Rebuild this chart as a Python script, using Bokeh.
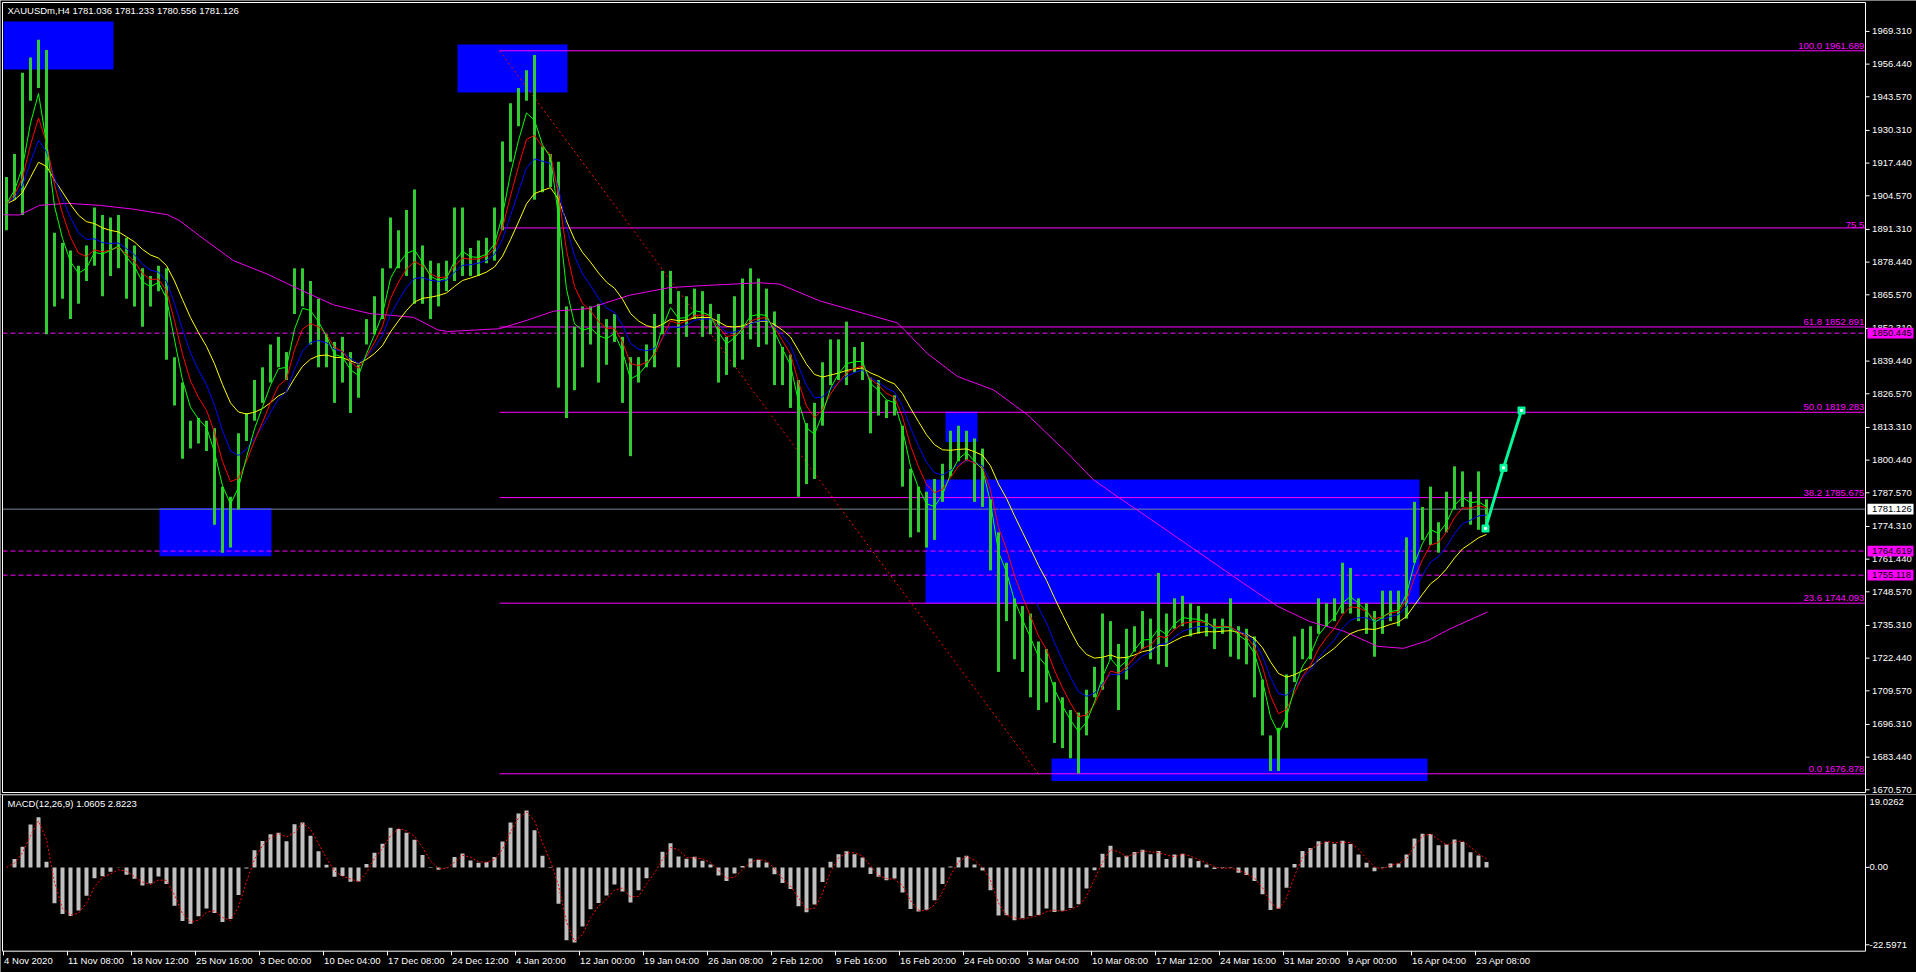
import pandas as pd
from bokeh.plotting import figure
from bokeh.layouts import column
from bokeh.models import Range1d
from bokeh.embed import file_html
from bokeh.resources import INLINE
from bokeh.core.properties import value

FONT = "Liberation Sans"
FS = "9.5px"

# ---------------------------------------------------------------------------
# XAUUSDm H4, 4 Nov 2020 .. 26 Apr 2021, H4 bars summarised four at a time
# (high / low of each group of four bars)
# ---------------------------------------------------------------------------
BARS_PER_GROUP = 4
group_high = [
    1912, 1921, 1953, 1959, 1966, 1962, 1890, 1886, 1883, 1877,
    1885, 1900, 1897, 1896, 1897, 1888, 1885, 1876, 1873, 1877,
    1876, 1841, 1831, 1816, 1817, 1816, 1813, 1790, 1786, 1811,
    1819, 1832, 1837, 1846, 1849, 1843, 1876, 1876, 1871, 1864,
    1850, 1847, 1849, 1843, 1838, 1856, 1865, 1876, 1896, 1891,
    1899, 1907, 1885, 1879, 1878, 1879, 1900, 1900, 1884, 1887,
    1888, 1900, 1926, 1941, 1947, 1954, 1960, 1924, 1921, 1918,
    1861, 1853, 1861, 1861, 1862, 1856, 1858, 1849, 1841, 1841,
    1846, 1858, 1875, 1875, 1867, 1865, 1868, 1867, 1862, 1858,
    1849, 1865, 1872, 1876, 1872, 1868, 1859, 1845, 1842, 1832,
    1815, 1823, 1839, 1848, 1848, 1855, 1845, 1847, 1833, 1832,
    1824, 1826, 1814, 1797, 1790, 1788, 1793, 1799, 1812, 1814,
    1812, 1809, 1805, 1785, 1772, 1760, 1746, 1743, 1740, 1729,
    1726, 1713, 1707, 1702, 1701, 1710, 1719, 1740, 1737, 1728,
    1734, 1735, 1741, 1738, 1756, 1740, 1746, 1747, 1744, 1743,
    1740, 1738, 1738, 1746, 1735, 1734, 1731, 1714, 1692, 1695,
    1716, 1731, 1734, 1735, 1746, 1744, 1746, 1760, 1758, 1746,
    1744, 1741, 1749, 1749, 1749, 1770, 1784, 1782, 1790, 1776,
    1788, 1798, 1796, 1788, 1796, 1785,
]
group_low = [
    1891, 1903, 1897, 1942, 1947, 1850, 1861, 1864, 1856, 1862,
    1871, 1877, 1865, 1873, 1876, 1864, 1861, 1853, 1861, 1867,
    1840, 1822, 1801, 1805, 1807, 1804, 1775, 1764, 1766, 1781,
    1808, 1816, 1823, 1831, 1837, 1832, 1858, 1861, 1846, 1837,
    1837, 1823, 1831, 1819, 1825, 1846, 1850, 1856, 1876, 1876,
    1873, 1862, 1862, 1856, 1861, 1867, 1871, 1873, 1873, 1873,
    1878, 1879, 1891, 1918, 1932, 1942, 1903, 1906, 1908, 1829,
    1817, 1828, 1837, 1846, 1831, 1838, 1847, 1823, 1802, 1831,
    1837, 1837, 1850, 1862, 1837, 1849, 1856, 1849, 1850, 1831,
    1834, 1837, 1840, 1848, 1845, 1846, 1830, 1830, 1821, 1786,
    1791, 1793, 1814, 1830, 1832, 1830, 1835, 1832, 1811, 1818,
    1817, 1818, 1790, 1770, 1772, 1766, 1769, 1784, 1794, 1800,
    1800, 1784, 1782, 1757, 1717, 1737, 1722, 1717, 1707, 1702,
    1705, 1689, 1687, 1683, 1677, 1692, 1707, 1710, 1722, 1702,
    1714, 1725, 1726, 1722, 1720, 1719, 1734, 1735, 1731, 1732,
    1731, 1726, 1732, 1723, 1722, 1720, 1707, 1692, 1678, 1678,
    1695, 1713, 1722, 1722, 1732, 1735, 1737, 1740, 1740, 1737,
    1732, 1723, 1732, 1737, 1735, 1738, 1760, 1769, 1767, 1764,
    1772, 1781, 1782, 1775, 1773, 1775,
]

# 200-period moving average (bar index, price)
ma200_bar = [0, 8, 18, 32, 48, 65, 82, 88, 98, 115, 132, 148, 165, 183,
             205, 217, 222, 248, 262, 275, 292, 313, 333, 350, 378, 388,
             408, 432, 447, 462, 477, 495, 512, 532, 545, 558, 570, 595,
             620, 637, 653, 670, 687, 700, 712, 723, 742]
ma200_val = [1897.1, 1897.0, 1900.8, 1901.6, 1900.8, 1899.3, 1897.1, 1894.8,
             1888.8, 1879.0, 1873.7, 1867.7, 1861.6, 1858.2, 1856.7, 1851.8,
             1851.1, 1852.2, 1855.6, 1859.1, 1860.1, 1865.4, 1868.4, 1869.2,
             1870.3, 1869.8, 1863.2, 1857.8, 1854.5, 1842.4, 1833.4, 1828.1,
             1818.3, 1803.2, 1792.7, 1785.5, 1779.1, 1765.5, 1751.9, 1742.9,
             1736.9, 1733.1, 1727.1, 1726.3, 1729.3, 1733.9, 1740.6]

# time axis: one label every 32 H4 bars
tick_bars = list(range(0, 737, 32))
tick_labels = ["4 Nov 2020", "11 Nov 08:00", "18 Nov 12:00", "25 Nov 16:00",
               "3 Dec 00:00", "10 Dec 04:00", "17 Dec 08:00", "24 Dec 12:00",
               "4 Jan 20:00", "12 Jan 00:00", "19 Jan 04:00", "26 Jan 08:00",
               "2 Feb 12:00", "9 Feb 16:00", "16 Feb 20:00", "24 Feb 00:00",
               "3 Mar 04:00", "10 Mar 08:00", "17 Mar 12:00", "24 Mar 16:00",
               "31 Mar 20:00", "9 Apr 00:00", "16 Apr 04:00", "23 Apr 08:00"]

price_ticks = [1969.310, 1956.440, 1943.570, 1930.310, 1917.440, 1904.570,
               1891.310, 1878.440, 1865.570, 1852.310, 1839.440, 1826.570,
               1813.310, 1800.440, 1787.570, 1774.310, 1761.440, 1748.570,
               1735.310, 1722.440, 1709.570, 1696.310, 1683.440, 1670.570]

# Fibonacci retracement 1961.689 -> 1676.878
fib_high, fib_low = 1961.689, 1676.878
fib_start_bar, fib_end_bar = 248, 517.5
fib_pct = [0.0, 23.6, 38.2, 50.0, 61.8, 75.5, 100.0]
fib_text = ["0.0 1676.878", "23.6 1744.093", "38.2 1785.675", "50.0 1819.283",
            "61.8 1852.891", "75.5", "100.0 1961.689"]

# supply / demand zones (bar from, bar to, price low, price high)
zone_left = [0, 227, 78, 471, 461, 524]
zone_right = [55, 282, 134, 487, 708, 712]
zone_bottom = [1954.3, 1945.3, 1762.6, 1807.6, 1743.9, 1674.0]
zone_top = [1973.2, 1964.2, 1781.6, 1819.6, 1792.8, 1682.9]

# horizontal price levels
level_prices = [1850.445, 1764.619, 1755.118]
bid_price = 1781.126

# projected path
proj_bar = [741, 750, 759]
proj_price = [1773.5, 1797.4, 1820.0]

title_text = "XAUUSDm,H4  1781.036 1781.233 1780.556 1781.126"
macd_text = "MACD(12,26,9) 1.0605 2.8223"
macd_ticks = [19.0262, 0.0, -22.5971]
macd_tick_text = ["19.0262", "0.00", "-22.5971"]

# ---------------------------------------------------------------------------
# pane geometry in chart units (bars / prices)
PANE_L, PANE_R = -0.5, 931.0          # left and right pane edges (bars)
MAIN_BOT, MAIN_TOP = 1669.5, 1980.71   # main pane edges (price)
MACD_BOT, MACD_TOP = -24.46, 21.19     # macd pane edges (value)
AXIS_TEXT_X = 934.3
TAG_L, TAG_R = 932.0, 955.0

df = pd.DataFrame({"high": group_high, "low": group_low})
df["bar"] = [BARS_PER_GROUP * i + 1.5 for i in range(len(df))]
df["mid"] = (df["high"] + df["low"]) / 2.0


def ema(series, bars):
    return series.ewm(span=bars / BARS_PER_GROUP, adjust=False).mean()


ma_specs = [(12, "#00FF00"), (20, "#FF0000"), (32, "#0000FF"), (56, "#FFFF00")]
fast = ema(df["mid"], 12)
slow = ema(df["mid"], 26)
df["macd"] = fast - slow
df["signal"] = df["macd"].rolling(round(9 / BARS_PER_GROUP), min_periods=1).mean()

x_range = Range1d(-1.5, 956.5)
common = dict(output_backend="svg", toolbar_location=None, x_axis_location=None,
              y_axis_location=None, min_border=0, outline_line_color=None,
              background_fill_color="black", border_fill_color="black")

# ---------------------------------------------------------------------------
p = figure(width=1916, height=794, x_range=x_range,
           y_range=Range1d(1668.72, 1981.50), **common)
p.grid.visible = False

# zones
p.quad(left=zone_left, right=zone_right, bottom=zone_bottom, top=zone_top,
       fill_color="#0000FF", line_color=None)

# dashed horizontal levels and bid line
n_lv = len(level_prices)
p.segment(x0=[PANE_L] * n_lv, x1=[PANE_R] * n_lv, y0=level_prices, y1=level_prices,
          line_color="#FF00FF", line_width=1, line_dash="5 3")
p.segment(x0=[PANE_L], x1=[PANE_R], y0=[bid_price], y1=[bid_price],
          line_color="#778899", line_width=1)

# fibonacci
fib_prices = [fib_low + pc / 100.0 * (fib_high - fib_low) for pc in fib_pct]
p.segment(x0=[fib_start_bar] * len(fib_prices), x1=[PANE_R] * len(fib_prices),
          y0=fib_prices, y1=fib_prices, line_color="#FF00FF", line_width=1)
p.line([fib_start_bar, fib_end_bar], [fib_high, fib_low], line_color="#FF0000",
       line_width=1, line_dash="2 3")
p.text(x=[930.4] * len(fib_prices), y=fib_prices, text=fib_text,
       text_color="#FF00FF", text_align="right", text_baseline="bottom",
       text_font=value(FONT), text_font_size=FS)

# price bars
p.vbar(x=df["bar"], top=df["high"], bottom=df["low"], width=1.5,
       fill_color="#32CD32", line_color=None)

# moving averages
p.line(ma200_bar, ma200_val, line_color="#EE00EE", line_width=1)
for bars, col in reversed(ma_specs):
    p.line(df["bar"], ema(df["mid"], bars), line_color=col, line_width=1)

# projection
p.line(proj_bar, proj_price, line_color="#00FA9A", line_width=3)
p.scatter(proj_bar, proj_price, marker="square", size=7, fill_color="#00FA9A",
          line_color="#00FA9A")
p.scatter(proj_bar, proj_price, marker="square", size=2, fill_color="white",
          line_color="white")

# pane frame and price scale
p.quad(left=[PANE_L], right=[PANE_R], bottom=[MAIN_BOT], top=[MAIN_TOP],
       fill_color=None, line_color="white", line_width=1)
n_pt = len(price_ticks)
p.segment(x0=[PANE_R] * n_pt, x1=[PANE_R + 2] * n_pt, y0=price_ticks, y1=price_ticks,
          line_color="white", line_width=1)
p.text(x=[AXIS_TEXT_X] * n_pt, y=price_ticks, text=[f"{t:.3f}" for t in price_ticks],
       text_color="white", text_align="left", text_baseline="middle",
       text_font=value(FONT), text_font_size=FS)

# price tags on the scale
tag_prices = level_prices + [bid_price]
tag_colors = ["#FF00FF"] * n_lv + ["white"]
p.quad(left=[TAG_L] * len(tag_prices), right=[TAG_R] * len(tag_prices),
       bottom=[v - 2.1 for v in tag_prices], top=[v + 2.1 for v in tag_prices],
       fill_color=tag_colors, line_color=None)
p.text(x=[AXIS_TEXT_X] * len(tag_prices), y=tag_prices,
       text=[f"{v:.3f}" for v in tag_prices], text_color="black",
       text_align="left", text_baseline="middle",
       text_font=value(FONT), text_font_size=FS)

# title
p.text(x=[2], y=[1977.5], text=[title_text], text_color="white",
       text_align="left", text_baseline="middle",
       text_font=value(FONT), text_font_size=FS)

# ---------------------------------------------------------------------------
m = figure(width=1916, height=178, x_range=x_range,
           y_range=Range1d(-30.682, 21.274), **common)
m.grid.visible = False
m.vbar(x=df["bar"], top=df["macd"], bottom=0, width=2, fill_color="#C0C0C0",
       line_color=None)
m.line(df["bar"], df["signal"], line_color="#FF0000", line_width=1, line_dash="2 2")
m.text(x=[2], y=[18.56], text=[macd_text], text_color="white",
       text_align="left", text_baseline="middle",
       text_font=value(FONT), text_font_size=FS)

# pane frame and value scale
m.quad(left=[PANE_L], right=[PANE_R], bottom=[MACD_BOT], top=[MACD_TOP],
       fill_color=None, line_color="white", line_width=1)
m.segment(x0=[PANE_R] * 2, x1=[PANE_R + 2] * 2, y0=macd_ticks[1:], y1=macd_ticks[1:],
          line_color="white", line_width=1)
m.text(x=[933.0] * len(macd_ticks), y=macd_ticks, text=macd_tick_text,
       text_color="white", text_align="left", text_baseline="middle",
       text_font=value(FONT), text_font_size=FS)

# time scale under the macd pane
n_tk = len(tick_bars)
m.segment(x0=tick_bars, x1=tick_bars, y0=[MACD_BOT] * n_tk, y1=[-25.7] * n_tk,
          line_color="white", line_width=1)
m.text(x=[b + 0.3 for b in tick_bars], y=[-27.1] * n_tk, text=tick_labels,
       text_color="white", text_align="left", text_baseline="middle",
       text_font=value(FONT), text_font_size=FS)

layout = column(p, m, spacing=0)
open("out.html", "w").write(file_html(layout, INLINE))
